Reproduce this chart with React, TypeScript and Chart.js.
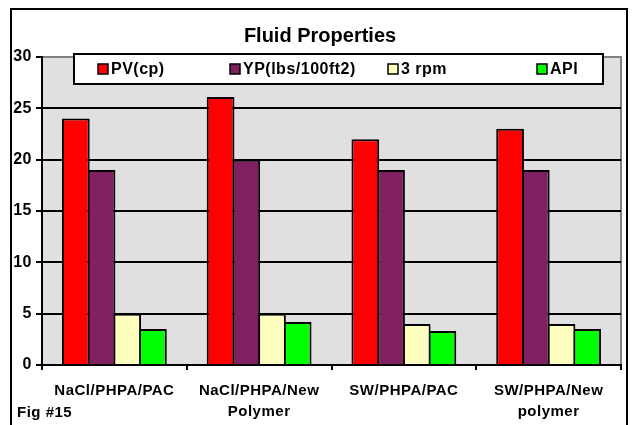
import { useEffect, useRef } from 'react';
import { Chart, registerables } from 'chart.js';

Chart.register(...registerables);

// ---- data ----
const categories: string[][] = [
  ['NaCl/PHPA/PAC'],
  ['NaCl/PHPA/New', 'Polymer'],
  ['SW/PHPA/PAC'],
  ['SW/PHPA/New', 'polymer'],
];
const seriesNames = ['PV(cp)', 'YP(lbs/100ft2)', '3 rpm', 'API'];
const pvValues = [24, 26.1, 22, 23];
const ypValues = [19, 20, 19, 19];
const rpm3Values = [5, 5, 4, 4];
const apiValues = [3.5, 4.2, 3.3, 3.5];
const yMin = 0;
const yMax = 30;
const yStep = 5;
const chartTitle = 'Fluid Properties';
const figLabel = 'Fig #15';

// ---- style ----
const seriesColors = ['#FF0000', '#802060', '#FFFFC0', '#00FF00'];
const FONT = '"Liberation Sans", Arial, Helvetica, sans-serif';
const legendItemX = [98, 230, 388, 537];

const decorPlugin = {
  id: 'decor',
  beforeDraw(chart: any) {
    const { ctx, chartArea: a } = chart;
    ctx.save();
    ctx.fillStyle = '#ffffff';
    ctx.fillRect(0, 0, chart.width, chart.height);
    ctx.fillStyle = '#E0E0E0';
    ctx.fillRect(a.left, a.top, a.right - a.left, a.bottom - a.top);
    ctx.strokeStyle = '#808080';
    ctx.lineWidth = 2;
    ctx.beginPath();
    ctx.moveTo(a.left, a.top);
    ctx.lineTo(a.right, a.top);
    ctx.lineTo(a.right, a.bottom);
    ctx.stroke();
    ctx.strokeStyle = '#000000';
    ctx.lineWidth = 2;
    ctx.strokeRect(11, 9, 616, 440);
    ctx.restore();
    ctx.letterSpacing = '0.5px';
  },
  afterDraw(chart: any) {
    const ctx = chart.ctx;
    ctx.save();
    // title
    ctx.letterSpacing = '0px';
    ctx.fillStyle = '#000';
    ctx.font = `bold 20px ${FONT}`;
    ctx.textAlign = 'center';
    ctx.textBaseline = 'middle';
    ctx.fillText(chartTitle, 320, 36);
    // legend box
    ctx.fillStyle = '#fff';
    ctx.fillRect(74, 54, 529, 30);
    ctx.strokeStyle = '#000';
    ctx.lineWidth = 2;
    ctx.strokeRect(74, 54, 529, 30);
    ctx.font = `bold 16px ${FONT}`;
    ctx.letterSpacing = '0.5px';
    ctx.textAlign = 'left';
    chart.data.datasets.forEach((ds: any, i: number) => {
      const x = legendItemX[i];
      ctx.fillStyle = ds.backgroundColor;
      ctx.fillRect(x, 64, 10, 10);
      ctx.lineWidth = 1.5;
      ctx.strokeStyle = '#000';
      ctx.strokeRect(x, 64, 10, 10);
      ctx.fillStyle = '#000';
      ctx.fillText(ds.label, x + 13, 70);
    });
    // fig label
    ctx.font = `bold 15px ${FONT}`;
    ctx.letterSpacing = '0.5px';
    ctx.textAlign = 'left';
    ctx.fillText(figLabel, 17, 413);
    ctx.restore();
  },
};

export default function App() {
  const ref = useRef<HTMLCanvasElement>(null);
  useEffect(() => {
    if (!ref.current) return;
    const values = [pvValues, ypValues, rpm3Values, apiValues];
    const chart = new Chart(ref.current, {
      type: 'bar',
      data: {
        labels: categories,
        datasets: seriesNames.map((name, i) => ({
          label: name,
          data: values[i],
          backgroundColor: seriesColors[i],
          borderColor: '#000000',
          borderWidth: 2,
          borderSkipped: 'start' as const,
          inflateAmount: 0,
          categoryPercentage: 0.71,
          barPercentage: 1.08,
        })),
      },
      options: {
        responsive: false,
        animation: false,
        layout: { padding: { left: 12, right: 11, top: 57, bottom: 0 } },
        plugins: {
          legend: { display: false },
          title: { display: false },
          tooltip: { enabled: false },
        },
        scales: {
          x: {
            offset: true,
            grid: {
              offset: true,
              drawOnChartArea: false,
              drawTicks: true,
              tickLength: 5,
              tickColor: '#000',
              lineWidth: 2,
            },
            border: { color: '#000', width: 2 },
            ticks: {
              color: '#000',
              font: { family: FONT, size: 15, weight: 'bold', lineHeight: 1.35 },
              padding: 11,
              maxRotation: 0,
              autoSkip: false,
            },
            afterFit: (scale: any) => {
              scale.height = 60;
            },
          },
          y: {
            min: yMin,
            max: yMax,
            grid: {
              color: (c: any) => (c.tick && c.tick.value === yMax ? '#808080' : '#000000'),
              lineWidth: 2,
              tickLength: 6,
              tickColor: '#000',
            },
            border: { color: '#000', width: 2 },
            ticks: {
              stepSize: yStep,
              color: '#000',
              font: { family: FONT, size: 16, weight: 'bold' },
              padding: 4,
            },
            afterFit: (scale: any) => {
              scale.width = 30;
            },
          },
        },
      },
      plugins: [decorPlugin],
    });
    return () => chart.destroy();
  }, []);
  return (
    <div style={{ position: 'fixed', left: 0, top: 0, width: 632, height: 425, overflow: 'hidden', background: '#fff' }}>
      <canvas ref={ref} width={632} height={425} style={{ display: 'block' }} />
    </div>
  );
}
